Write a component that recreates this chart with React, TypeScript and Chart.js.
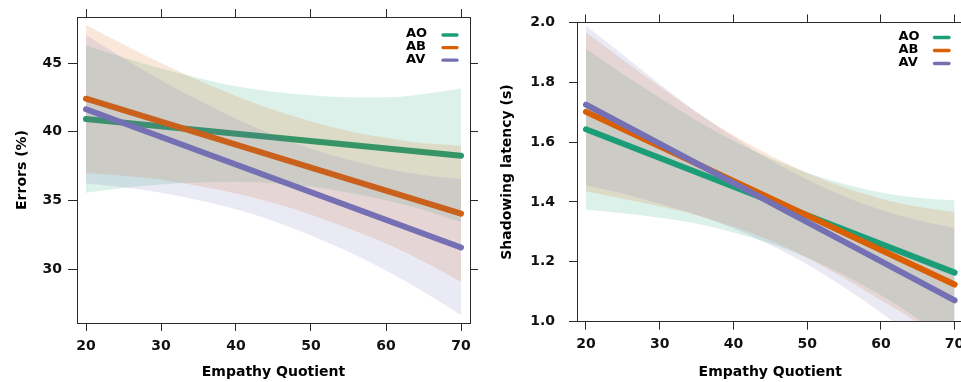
import React, { useEffect, useRef } from 'react';
import { Chart, registerables } from 'chart.js';

Chart.register(...registerables);

// ---------- data ----------
const EQ = [20, 25, 30, 35, 40, 45, 50, 55, 60, 65, 70];
const LINE_EQ = [20, 70];
const X_TICKS = [20, 30, 40, 50, 60, 70];
const GROUPS = ['AO', 'AB', 'AV'];
const GROUP_COLORS = ['#1B9E77', '#D95F02', '#7570B3'];

// Panel 1: Errors (%)
const ERR_Y_TICKS = [30, 35, 40, 45];
const ERR_AO_FIT = [40.92, 38.25];
const ERR_AB_FIT = [42.4, 34.03];
const ERR_AV_FIT = [41.63, 31.57];
const ERR_AO_UPPER = [46.3, 45.4, 44.6, 43.9, 43.3, 42.9, 42.65, 42.5, 42.5, 42.75, 43.15];
const ERR_AO_LOWER = [35.55, 35.9, 36.15, 36.3, 36.35, 36.25, 36.0, 35.55, 35.0, 34.3, 33.4];
const ERR_AB_UPPER = [47.77, 46.35, 45.0, 43.75, 42.6, 41.6, 40.75, 40.05, 39.55, 39.15, 38.98];
const ERR_AB_LOWER = [36.97, 36.8, 36.5, 36.05, 35.5, 34.8, 33.95, 32.95, 31.85, 30.55, 29.07];
const ERR_AV_UPPER = [47.04, 45.35, 43.75, 42.3, 40.95, 39.75, 38.75, 37.95, 37.3, 36.85, 36.55];
const ERR_AV_LOWER = [36.24, 35.95, 35.55, 35.0, 34.35, 33.5, 32.45, 31.25, 29.9, 28.35, 26.65];

// Panel 2: Shadowing latency (s)
const LAT_Y_TICKS = [1.0, 1.2, 1.4, 1.6, 1.8, 2.0];
const LAT_AO_FIT = [1.643, 1.164];
const LAT_AB_FIT = [1.701, 1.124];
const LAT_AV_FIT = [1.725, 1.071];
const LAT_AO_UPPER = [1.911, 1.828, 1.748, 1.672, 1.604, 1.546, 1.498, 1.46, 1.432, 1.414, 1.405];
const LAT_AO_LOWER = [1.375, 1.362, 1.347, 1.327, 1.298, 1.261, 1.214, 1.156, 1.088, 1.01, 0.922];
const LAT_AB_UPPER = [1.967, 1.875, 1.786, 1.7, 1.623, 1.555, 1.497, 1.449, 1.411, 1.384, 1.367];
const LAT_AB_LOWER = [1.435, 1.411, 1.386, 1.356, 1.317, 1.271, 1.213, 1.145, 1.072, 0.995, 0.882];
const LAT_AV_UPPER = [1.989, 1.892, 1.794, 1.701, 1.617, 1.54, 1.475, 1.419, 1.374, 1.339, 1.314];
const LAT_AV_LOWER = [1.455, 1.428, 1.394, 1.357, 1.311, 1.256, 1.191, 1.115, 1.03, 0.935, 0.828];

// ---------- helpers ----------
const FONT = "'DejaVu Sans', 'Liberation Sans', sans-serif";
const INK = '#2a2a2a';

function rgba(hex: string, a: number) {
  const n = parseInt(hex.slice(1), 16);
  return `rgba(${(n >> 16) & 255},${(n >> 8) & 255},${n & 255},${a})`;
}

function pts(xs: number[], ys: number[]) {
  return xs.map((x, i) => ({ x, y: ys[i] }));
}

function buildDatasets(fits: number[][], uppers: number[][], lowers: number[][]) {
  const ds: any[] = [];
  GROUPS.forEach((g, i) => {
    const c = GROUP_COLORS[i];
    ds.push({
      label: g + ' upper',
      data: pts(EQ, uppers[i]),
      borderWidth: 0,
      borderColor: 'rgba(0,0,0,0)',
      pointRadius: 0,
      fill: '+1',
      backgroundColor: rgba(c, 0.15),
      cubicInterpolationMode: 'monotone',
    });
    ds.push({
      label: g + ' lower',
      data: pts(EQ, lowers[i]),
      borderWidth: 0,
      borderColor: 'rgba(0,0,0,0)',
      pointRadius: 0,
      fill: false,
      cubicInterpolationMode: 'monotone',
    });
    ds.push({
      label: g,
      data: pts(LINE_EQ, fits[i]),
      borderColor: c,
      borderWidth: 6,
      borderCapStyle: 'round',
      pointRadius: 0,
      fill: false,
    });
  });
  ds.forEach((d, i) => (d.order = ds.length - i));
  return ds;
}

const cornerKey = {
  id: 'cornerKey',
  afterDraw(chart: any, _a: any, o: any) {
    const { ctx } = chart;
    ctx.save();
    ctx.font = `bold 13px ${FONT}`;
    ctx.textBaseline = 'middle';
    ctx.textAlign = 'left';
    GROUPS.forEach((g, i) => {
      const y = o.y + i * o.gap;
      ctx.fillStyle = '#000';
      ctx.fillText(g, o.textX, y);
      ctx.strokeStyle = GROUP_COLORS[i];
      ctx.lineWidth = 3.3;
      ctx.lineCap = 'round';
      ctx.beginPath();
      ctx.moveTo(o.lineX0, y + 1);
      ctx.lineTo(o.lineX1, y + 1);
      ctx.stroke();
    });
    ctx.restore();
  },
};

interface PanelSpec {
  xMin: number;
  xMax: number;
  yMin: number;
  yMax: number;
  yTicks: number[];
  yFmt: (v: number) => string;
  yTitle: string;
  leftW: number;
  rightW: number;
  topH: number;
  bottomH: number;
  yTitlePad: number;
  yTickPad: number;
  yTickLen: number;
  xTickPad: number;
  drawTime: string;
  key: any;
  datasets: any[];
}

function makeConfig(p: PanelSpec): any {
  const grid = (len: number) => ({
    drawOnChartArea: false,
    drawTicks: true,
    tickLength: len,
    color: INK,
    lineWidth: 1,
  });
  const border = { display: true, color: INK, width: 1 };
  const tickFont = { family: FONT, weight: 'bold', size: 14 };
  const setX = (s: any) => {
    s.ticks = X_TICKS.map((v) => ({ value: v }));
  };
  const setY = (s: any) => {
    s.ticks = p.yTicks.map((v) => ({ value: v }));
  };
  return {
    type: 'line',
    data: { datasets: p.datasets },
    plugins: [cornerKey],
    options: {
      responsive: false,
      maintainAspectRatio: false,
      animation: false,
      devicePixelRatio: 1,
      events: [],
      layout: { padding: 0 },
      plugins: {
        legend: { display: false },
        tooltip: { enabled: false },
        filler: { drawTime: p.drawTime },
        cornerKey: p.key,
      },
      scales: {
        x: {
          type: 'linear',
          position: 'bottom',
          min: p.xMin,
          max: p.xMax,
          afterBuildTicks: setX,
          afterFit: (s: any) => {
            s.height = p.bottomH;
          },
          grid: grid(8),
          border,
          ticks: {
            color: '#111',
            font: tickFont,
            padding: p.xTickPad,
            maxRotation: 0,
            callback: (v: any) => String(v),
          },
          title: {
            display: true,
            text: 'Empathy Quotient',
            color: '#000',
            font: { family: FONT, weight: 'bold', size: 14 },
            padding: { top: 0, bottom: 1.6 },
          },
        },
        x2: {
          type: 'linear',
          position: 'top',
          min: p.xMin,
          max: p.xMax,
          afterBuildTicks: setX,
          afterFit: (s: any) => {
            s.height = p.topH;
          },
          grid: grid(8),
          border,
          ticks: { display: false },
        },
        y: {
          type: 'linear',
          position: 'left',
          min: p.yMin,
          max: p.yMax,
          afterBuildTicks: setY,
          afterFit: (s: any) => {
            s.width = p.leftW;
          },
          grid: grid(p.yTickLen),
          border,
          ticks: {
            color: '#111',
            font: tickFont,
            padding: p.yTickPad,
            callback: (v: any) => p.yFmt(Number(v)),
          },
          title: {
            display: true,
            text: p.yTitle,
            color: '#000',
            font: { family: FONT, weight: 'bold', size: 14 },
            padding: { top: p.yTitlePad, bottom: 0 },
          },
        },
        y2: {
          type: 'linear',
          position: 'right',
          min: p.yMin,
          max: p.yMax,
          afterBuildTicks: setY,
          afterFit: (s: any) => {
            s.width = p.rightW;
          },
          grid: grid(8),
          border,
          ticks: { display: false },
        },
      },
    },
  };
}

export default function App() {
  const leftRef = useRef<HTMLCanvasElement | null>(null);
  const rightRef = useRef<HTMLCanvasElement | null>(null);

  useEffect(() => {
    const left = new Chart(
      leftRef.current as HTMLCanvasElement,
      makeConfig({
        xMin: 18.8,
        xMax: 71.2,
        yMin: 26.07,
        yMax: 48.35,
        yTicks: ERR_Y_TICKS,
        yFmt: (v) => String(v),
        yTitle: 'Errors (%)',
        leftW: 77,
        rightW: 10,
        topH: 17,
        bottomH: 59,
        yTitlePad: 13.6,
        yTickPad: 6,
        yTickLen: 9,
        xTickPad: 7,
        drawTime: 'beforeDatasetDraw',
        key: { textX: 406, lineX0: 443, lineX1: 457, y: 34, gap: 12.6 },
        datasets: buildDatasets(
          [ERR_AO_FIT, ERR_AB_FIT, ERR_AV_FIT],
          [ERR_AO_UPPER, ERR_AB_UPPER, ERR_AV_UPPER],
          [ERR_AO_LOWER, ERR_AB_LOWER, ERR_AV_LOWER]
        ),
      })
    );
    const right = new Chart(
      rightRef.current as HTMLCanvasElement,
      makeConfig({
        xMin: 18.78,
        xMax: 71.22,
        yMin: 1.0,
        yMax: 2.0,
        yTicks: LAT_Y_TICKS,
        yFmt: (v) => v.toFixed(1),
        yTitle: 'Shadowing latency (s)',
        leftW: 97,
        rightW: 8.4,
        topH: 17.3,
        bottomH: 60.3,
        yTitlePad: 18.6,
        yTickPad: 14,
        yTickLen: 8,
        xTickPad: 6.5,
        drawTime: 'beforeDatasetsDraw',
        key: { textX: 418.5, lineX0: 454.5, lineX1: 469, y: 36.5, gap: 13 },
        datasets: buildDatasets(
          [LAT_AO_FIT, LAT_AB_FIT, LAT_AV_FIT],
          [LAT_AO_UPPER, LAT_AB_UPPER, LAT_AV_UPPER],
          [LAT_AO_LOWER, LAT_AB_LOWER, LAT_AV_LOWER]
        ),
      })
    );
    return () => {
      left.destroy();
      right.destroy();
    };
  }, []);

  return (
    <div
      style={{
        position: 'fixed',
        left: 0,
        top: 0,
        width: 961,
        height: 382,
        overflow: 'hidden',
        background: '#fff',
      }}
    >
      <canvas
        ref={leftRef}
        width={480}
        height={382}
        style={{ position: 'absolute', left: 0, top: 0, width: 480, height: 382 }}
      />
      <canvas
        ref={rightRef}
        width={492}
        height={382}
        style={{ position: 'absolute', left: 480, top: 0, width: 492, height: 382 }}
      />
    </div>
  );
}
